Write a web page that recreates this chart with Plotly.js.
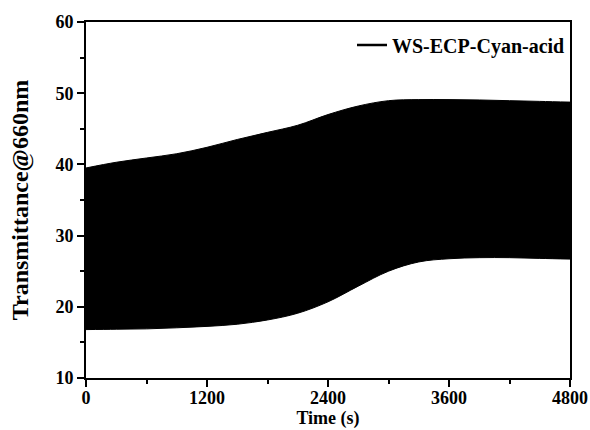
<!DOCTYPE html>
<html>
<head>
<meta charset="utf-8">
<script src="https://cdn.plot.ly/plotly-3.0.1.min.js"></script>
<style>
  html, body { margin: 0; padding: 0; background: #fff; }
  #chart { width: 590px; height: 430px; }
</style>
</head>
<body>
<div id="chart"></div>
<script>
// Switching test at 660 nm: the fast square-wave cycling fills a band
// between the bleached (upper) and coloured (lower) transmittance envelopes.
const timeS = [0, 300, 600, 900, 1200, 1500, 1800, 2100, 2400, 2700, 3000, 3300, 3600, 3900, 4200, 4500, 4800];
const upperT = [39.5, 40.3, 40.9, 41.5, 42.4, 43.5, 44.5, 45.5, 47.0, 48.2, 48.95, 49.1, 49.1, 49.05, 48.95, 48.85, 48.75];
const lowerT = [16.8, 16.85, 16.9, 17.05, 17.25, 17.55, 18.15, 19.1, 20.7, 22.9, 25.0, 26.3, 26.75, 26.9, 26.9, 26.8, 26.7];

const seriesName = 'WS-ECP-Cyan-acid';
const xTicks = [0, 1200, 2400, 3600, 4800];
const yTicks = [10, 20, 30, 40, 50, 60];

const serif = 'Liberation Serif, Times New Roman, serif';

const traces = [
  {
    x: timeS, y: upperT, type: 'scatter', mode: 'lines',
    line: { color: '#000', width: 1, shape: 'spline', smoothing: 1 },
    showlegend: false, hoverinfo: 'skip'
  },
  {
    x: timeS, y: lowerT, type: 'scatter', mode: 'lines',
    fill: 'tonexty', fillcolor: '#000',
    line: { color: '#000', width: 1, shape: 'spline', smoothing: 1 },
    showlegend: false, hoverinfo: 'skip'
  },
  {
    // legend entry for the cycling curve
    x: [null], y: [null], type: 'scatter', mode: 'lines',
    name: seriesName, line: { color: '#000', width: 2.5 }
  }
];

const axisCommon = {
  showline: true, linecolor: '#000', linewidth: 2, mirror: true,
  showgrid: false, zeroline: false,
  ticks: 'outside', ticklen: 7, tickwidth: 2, tickcolor: '#000',
  tickfont: { family: serif, size: 18, color: '#000', weight: 'bold' },
  minor: { ticks: 'outside', ticklen: 4, tickwidth: 2, tickcolor: '#000', showgrid: false }
};

const layout = {
  width: 590, height: 430,
  margin: { l: 86, r: 20, t: 22, b: 52 },
  paper_bgcolor: '#fff', plot_bgcolor: '#fff',
  showlegend: true,
  legend: {
    x: 1, xanchor: 'right', y: 0.99, yanchor: 'top',
    bgcolor: 'rgba(0,0,0,0)', borderwidth: 0,
    font: { family: serif, size: 20, color: '#000', weight: 'bold' }
  },
  xaxis: Object.assign({}, axisCommon, {
    range: [0, 4800], tickvals: xTicks, ticktext: xTicks.map(String),
    ticklabelstandoff: -5,
    minor: Object.assign({}, axisCommon.minor, { dtick: 600, tick0: 0 }),
    title: { text: 'Time (s)', standoff: 4,
      font: { family: serif, size: 18, color: '#000', weight: 'bold' } }
  }),
  yaxis: Object.assign({}, axisCommon, {
    range: [10, 60], tickvals: yTicks, ticktext: yTicks.map(String),
    minor: Object.assign({}, axisCommon.minor, { dtick: 5, tick0: 0 }),
    title: { text: 'Transmittance@660nm', standoff: 20,
      font: { family: serif, size: 24, color: '#000', weight: 'bold' } }
  })
};

Plotly.newPlot('chart', traces, layout, { displayModeBar: false, staticPlot: true });
</script>
</body>
</html>
